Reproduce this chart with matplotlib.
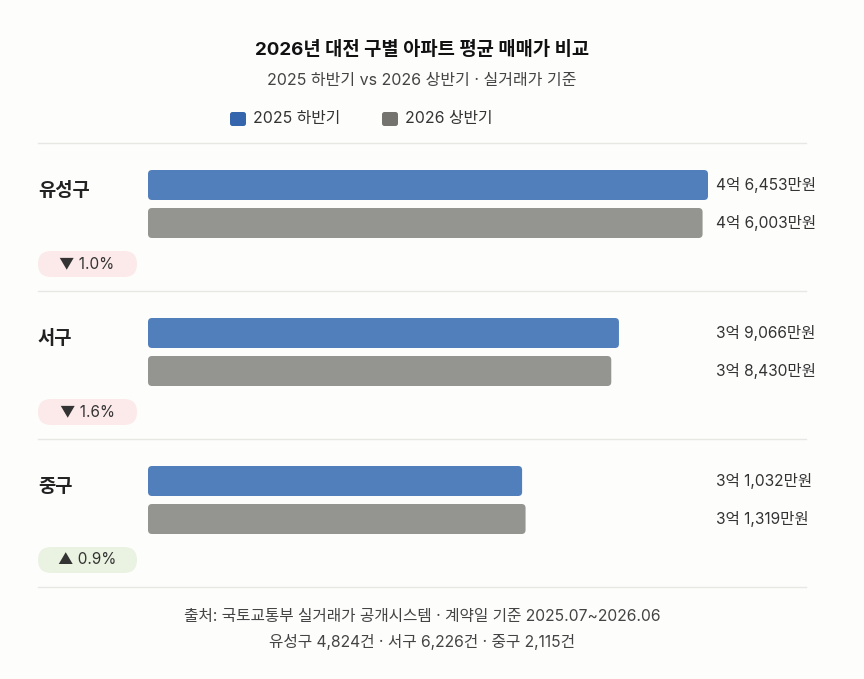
import matplotlib.pyplot as plt
from matplotlib.patches import FancyBboxPatch

plt.rcParams['font.family'] = ['Inter', 'Noto Sans CJK KR', 'DejaVu Sans']

districts = ['유성구', '서구', '중구']
h2_2025 = [46453, 39066, 31032]   # 만원
h1_2026 = [46003, 38430, 31319]   # 만원
counts = [4824, 6226, 2115]
series_names = ['2025 하반기', '2026 상반기']

title = '2026년 대전 구별 아파트 평균 매매가 비교'
subtitle = '2025 하반기 vs 2026 상반기 · 실거래가 기준'
source = '출처: 국토교통부 실거래가 공개시스템 · 계약일 기준 2025.07~2026.06'

BG = '#fdfdfc'
BAR_COLORS = ['#517fbb', '#949490']
LEG_COLORS = ['#3566ad', '#75736d']
LINE = '#e7e7e4'
TXT = '#333333'


def won(v):
    eok, man = divmod(v, 10000)
    return f'{eok}억 {man:,}만원'


W, H = 864, 679
fig = plt.figure(figsize=(W / 100, H / 100), dpi=100, facecolor=BG)

# layout axes in pixel units
bg = fig.add_axes([0, 0, 1, 1])
bg.set_xlim(0, W)
bg.set_ylim(H, 0)
bg.axis('off')

# bar axes: value scale on x, pixel scale on y
x0, track = 148, 560
vmax = max(max(h2_2025), max(h1_2026))
ax = fig.add_axes([x0 / W, 0, track / W, 1])
ax.set_xlim(0, vmax)
ax.set_ylim(H, 0)
ax.axis('off')
ax.patch.set_alpha(0)

cx = 422
bg.text(cx, 50, title, ha='center', va='center', fontsize=13.5, fontweight='bold', color='#111111')
bg.text(cx, 80, subtitle, ha='center', va='center', fontsize=11.5, color='#444444')

# legend
for i, (name, col) in enumerate(zip(series_names, LEG_COLORS)):
    lx = 230 + i * 152
    bg.add_patch(FancyBboxPatch((lx, 112), 16, 14, boxstyle='round,pad=0,rounding_size=2.5',
                                fc=col, ec='none'))
    bg.text(lx + 23, 119, name, ha='left', va='center', fontsize=11.4, color=TXT)

sec_top = 143
sec_h = 148
bar_h = 30
r_x = 4 * vmax / track

for i, name in enumerate(districts):
    s = sec_top + i * sec_h
    bg.plot([38, 806], [s, s], color=LINE, lw=1)
    bg.text(38, s + 48, name, ha='left', va='center', fontsize=13.5, fontweight='bold', color='#222222')
    for j, vals in enumerate([h2_2025, h1_2026]):
        top = s + 27 + j * 38
        ax.add_patch(FancyBboxPatch((0, top), vals[i], bar_h,
                                    boxstyle=f'round,pad=0,rounding_size={r_x}',
                                    mutation_aspect=track / vmax,
                                    fc=BAR_COLORS[j], ec='none'))
        bg.text(716, top + bar_h / 2, won(vals[i]), ha='left', va='center', fontsize=11.2, color=TXT)
    chg = (h1_2026[i] - h2_2025[i]) / h2_2025[i] * 100
    pill = '#eaf3e1' if chg > 0 else '#fce9ea'
    arrow = '▲' if chg > 0 else '▼'
    bg.add_patch(FancyBboxPatch((38, s + 108), 99, 26, boxstyle='round,pad=0,rounding_size=13',
                                fc=pill, ec='none'))
    bg.text(87, s + 121, f'{arrow} {abs(chg):.1f}%', ha='center', va='center', fontsize=11, color=TXT)

end = sec_top + len(districts) * sec_h
bg.plot([38, 806], [end, end], color=LINE, lw=1)

bg.text(cx, 617, source, ha='center', va='center', fontsize=11.3, color='#444444')
cnt_line = ' · '.join(f'{d} {c:,}건' for d, c in zip(districts, counts))
bg.text(cx, 642, cnt_line, ha='center', va='center', fontsize=11.3, color='#444444')

fig.savefig('out.png', dpi=100, facecolor=BG)
